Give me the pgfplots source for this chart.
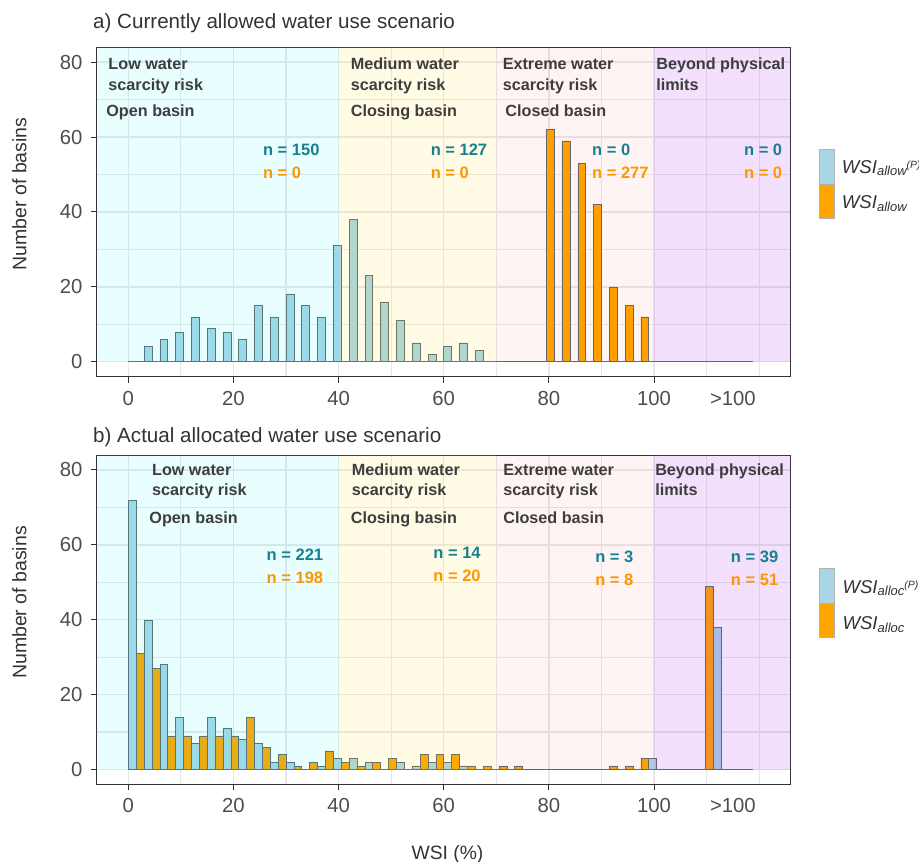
\documentclass[border=0pt]{standalone}
\usepackage{fontspec}
\setmainfont{Liberation Sans}
\usepackage{pgfplots}
\pgfplotsset{compat=1.18}
\definecolor{barblue}{HTML}{A9D6E6}
\definecolor{barorange}{HTML}{FFA500}
\definecolor{barout}{HTML}{5F6A6E}
\definecolor{ntealc}{HTML}{16808F}
\definecolor{norangec}{HTML}{FF9500}
\definecolor{zonetext}{HTML}{3D3D3D}
\definecolor{ticklab}{HTML}{4D4D4D}
\definecolor{bordercol}{HTML}{333333}
\definecolor{gridcol}{HTML}{E8E8E8}
\definecolor{zlow}{HTML}{00FFFF}
\definecolor{zmed}{HTML}{FFD700}
\definecolor{zext}{HTML}{FF3030}
\definecolor{zbey}{HTML}{A020F0}
\tikzset{
  zt/.style={anchor=base west, inner sep=0pt, text=zonetext, font=\fontsize{16.2}{18}\bfseries},
  nt/.style={anchor=base west, inner sep=0pt, text=ntealc, font=\fontsize{16.5}{18}\bfseries},
  no/.style={anchor=base west, inner sep=0pt, text=norangec, font=\fontsize{16.5}{18}\bfseries},
}
\pgfplotsset{panel/.style={
  scale only axis, width=694pt, height=329.5pt,
  xmin=-6, xmax=126, ymin=-4, ymax=84,
  axis line style={draw=bordercol, line width=0.9pt},
  xtick={0,20,...,100}, minor xtick={10,30,50,70,90,110,120},
  ytick={0,20,...,80}, minor ytick={10,30,50,70},
  grid=both,
  major grid style={draw=gridcol, line width=1.4pt},
  minor grid style={draw=gridcol, line width=1.2pt},
  tick align=outside, tick pos=left,
  major tick length=6pt, minor tick length=0pt,
  every tick/.style={draw=bordercol, line width=1pt},
  tick label style={font=\fontsize{20.3}{21}\selectfont, text=ticklab, inner sep=0pt},
  xticklabel shift=8pt, yticklabel shift=8pt,
  /pgf/number format/assume math mode=true,
  extra x ticks={115}, extra x tick labels={>100},
  extra x tick style={major tick length=0pt, grid=none, xticklabel shift=14pt},
},
bb/.style={ybar, bar width=1.5, bar shift=0pt, fill=barblue, draw=barout, line width=0.5pt},
bo/.style={ybar, bar width=1.5, bar shift=0pt, fill=barorange, draw=barout, line width=0.5pt},
}
\begin{document}
\begin{tikzpicture}
\path[use as bounding box] (0,0) rectangle (919pt,862pt);
% ---------------- panel a
\begin{axis}[panel, at={(96.7pt,485.3pt)}, anchor=south west]
\addplot[draw=barout, line width=0.6pt] coordinates {(0,0) (118.8,0)};
\addplot[bb] coordinates {
(3.75,4) (6.75,6) (9.75,8) (12.75,12) (15.75,9) (18.75,8) (21.75,6) (24.75,15)
(27.75,12) (30.75,18) (33.75,15) (36.75,12) (39.75,31) (42.75,38) (45.75,23)
(48.75,16) (51.75,11) (54.75,5) (57.75,2) (60.75,4) (63.75,5) (66.75,3)};
\addplot[bo] coordinates {
(80.25,62) (83.25,59) (86.25,53) (89.25,42) (92.25,20) (95.25,15) (98.25,12)};
\addplot[draw=none, fill=zlow, fill opacity=0.085] coordinates {(-6,0) (40,0) (40,84) (-6,84)} -- cycle;
\addplot[draw=none, fill=zmed, fill opacity=0.10] coordinates {(40,0) (70,0) (70,84) (40,84)} -- cycle;
\addplot[draw=none, fill=zext, fill opacity=0.05] coordinates {(70,0) (100,0) (100,84) (70,84)} -- cycle;
\addplot[draw=none, fill=zbey, fill opacity=0.14] coordinates {(100,0) (126,0) (126,84) (100,84)} -- cycle;
\node[zt] at (axis cs:-3.8,78.1) {Low water};
\node[zt] at (axis cs:-3.8,72.5) {scarcity risk};
\node[zt] at (axis cs:-4.2,65.5) {Open basin};
\node[zt] at (axis cs:42.3,78.1) {Medium water};
\node[zt] at (axis cs:42.3,72.5) {scarcity risk};
\node[zt] at (axis cs:42.3,65.5) {Closing basin};
\node[zt] at (axis cs:71.2,78.1) {Extreme water};
\node[zt] at (axis cs:71.2,72.5) {scarcity risk};
\node[zt] at (axis cs:71.7,65.5) {Closed basin};
\node[zt] at (axis cs:100.4,78.1) {Beyond physical};
\node[zt] at (axis cs:100.4,72.5) {limits};
\node[nt] at (axis cs:25.6,55.0) {n = 150};
\node[no] at (axis cs:25.6,48.8) {n = 0};
\node[nt] at (axis cs:57.5,55.0) {n = 127};
\node[no] at (axis cs:57.5,48.8) {n = 0};
\node[nt] at (axis cs:88.2,55.0) {n = 0};
\node[no] at (axis cs:88.2,48.8) {n = 277};
\node[nt] at (axis cs:117.1,55.0) {n = 0};
\node[no] at (axis cs:117.1,48.8) {n = 0};
\end{axis}
% ---------------- panel b
\begin{axis}[panel, at={(96.7pt,77.5pt)}, anchor=south west]
\addplot[draw=barout, line width=0.6pt] coordinates {(0,0) (118.8,0)};
\addplot[bb] coordinates {
(0.75,72) (3.75,40) (6.75,28) (9.75,14) (12.75,7) (15.75,14) (18.75,11) (21.75,8)
(24.75,7) (27.75,2) (30.75,2) (36.75,1) (39.75,3) (42.75,3) (45.75,2) (51.75,2)
(54.75,1) (57.75,2) (60.75,2) (63.75,1) (99.75,3) (112.05,38)};
\addplot[bo] coordinates {
(2.25,31) (5.25,27) (8.25,9) (11.25,9) (14.25,9) (17.25,9) (20.25,9) (23.25,14)
(26.25,6) (29.25,4) (32.25,1) (35.25,2) (38.25,5) (41.25,2) (44.25,1) (47.25,2)
(50.25,3) (56.25,4) (59.25,4) (62.25,4) (65.25,1) (68.25,1) (71.25,1) (74.25,1)
(92.25,1) (95.25,1) (98.25,3) (110.55,49)};
\addplot[draw=none, fill=zlow, fill opacity=0.085] coordinates {(-6,0) (40,0) (40,84) (-6,84)} -- cycle;
\addplot[draw=none, fill=zmed, fill opacity=0.10] coordinates {(40,0) (70,0) (70,84) (40,84)} -- cycle;
\addplot[draw=none, fill=zext, fill opacity=0.05] coordinates {(70,0) (100,0) (100,84) (70,84)} -- cycle;
\addplot[draw=none, fill=zbey, fill opacity=0.14] coordinates {(100,0) (126,0) (126,84) (100,84)} -- cycle;
\node[zt] at (axis cs:4.5,78.5) {Low water};
\node[zt] at (axis cs:4.5,73.1) {scarcity risk};
\node[zt] at (axis cs:4.0,65.8) {Open basin};
\node[zt] at (axis cs:42.5,78.5) {Medium water};
\node[zt] at (axis cs:42.5,73.1) {scarcity risk};
\node[zt] at (axis cs:42.3,65.8) {Closing basin};
\node[zt] at (axis cs:71.3,78.5) {Extreme water};
\node[zt] at (axis cs:71.3,73.1) {scarcity risk};
\node[zt] at (axis cs:71.3,65.8) {Closed basin};
\node[zt] at (axis cs:100.2,78.5) {Beyond physical};
\node[zt] at (axis cs:100.2,73.1) {limits};
\node[nt] at (axis cs:26.3,55.7) {n = 221};
\node[no] at (axis cs:26.3,49.7) {n = 198};
\node[nt] at (axis cs:58.0,56.3) {n = 14};
\node[no] at (axis cs:58.0,50.3) {n = 20};
\node[nt] at (axis cs:88.8,55.3) {n = 3};
\node[no] at (axis cs:88.8,49.2) {n = 8};
\node[nt] at (axis cs:114.6,55.3) {n = 39};
\node[no] at (axis cs:114.6,49.2) {n = 51};
\end{axis}
% ---------------- titles and axis labels
\node[anchor=base west, inner sep=0pt, text=bordercol, font=\fontsize{20.6}{22}\selectfont] at (93pt,833pt) {a) Currently allowed water use scenario};
\node[anchor=base west, inner sep=0pt, text=bordercol, font=\fontsize{20.6}{22}\selectfont] at (93pt,419pt) {b) Actual allocated water use scenario};
\node[rotate=90, inner sep=0pt, text=bordercol, font=\fontsize{19.5}{20}\selectfont] at (19.3pt,668pt) {Number of basins};
\node[rotate=90, inner sep=0pt, text=bordercol, font=\fontsize{19.5}{20}\selectfont] at (19.3pt,259.5pt) {Number of basins};
\node[anchor=base, inner sep=0pt, text=bordercol, font=\fontsize{19.3}{20}\selectfont] at (447.5pt,2.7pt) {WSI (\%)};
% ---------------- legends
\fill[barblue, draw=gray!60, line width=0.5pt] (819pt,678pt) rectangle (834.3pt,712.7pt);
\fill[barorange, draw=gray!60, line width=0.5pt] (819pt,643.3pt) rectangle (834.3pt,678pt);
\node[anchor=base west, inner sep=0pt, text=bordercol] at (841.7pt,688.7pt) {\fontsize{18.6}{20}\itshape WSI\raisebox{-2.4pt}{\fontsize{13}{14}\selectfont allow\raisebox{7.3pt}{\fontsize{10.5}{11}\selectfont (P)}}};
\node[anchor=base west, inner sep=0pt, text=bordercol] at (841.7pt,653pt) {\fontsize{18.6}{20}\itshape WSI\raisebox{-2.4pt}{\fontsize{13}{14}\selectfont allow}};
\fill[barblue, draw=gray!60, line width=0.5pt] (819pt,258.7pt) rectangle (834.3pt,293.7pt);
\fill[barorange, draw=gray!60, line width=0.5pt] (819pt,224.3pt) rectangle (834.3pt,258.7pt);
\node[anchor=base west, inner sep=0pt, text=bordercol] at (842.3pt,268.7pt) {\fontsize{18.6}{20}\itshape WSI\raisebox{-2.4pt}{\fontsize{13}{14}\selectfont alloc\raisebox{7.3pt}{\fontsize{10.5}{11}\selectfont (P)}}};
\node[anchor=base west, inner sep=0pt, text=bordercol] at (842.3pt,232pt) {\fontsize{18.6}{20}\itshape WSI\raisebox{-2.4pt}{\fontsize{13}{14}\selectfont alloc}};
\end{tikzpicture}
\end{document}
